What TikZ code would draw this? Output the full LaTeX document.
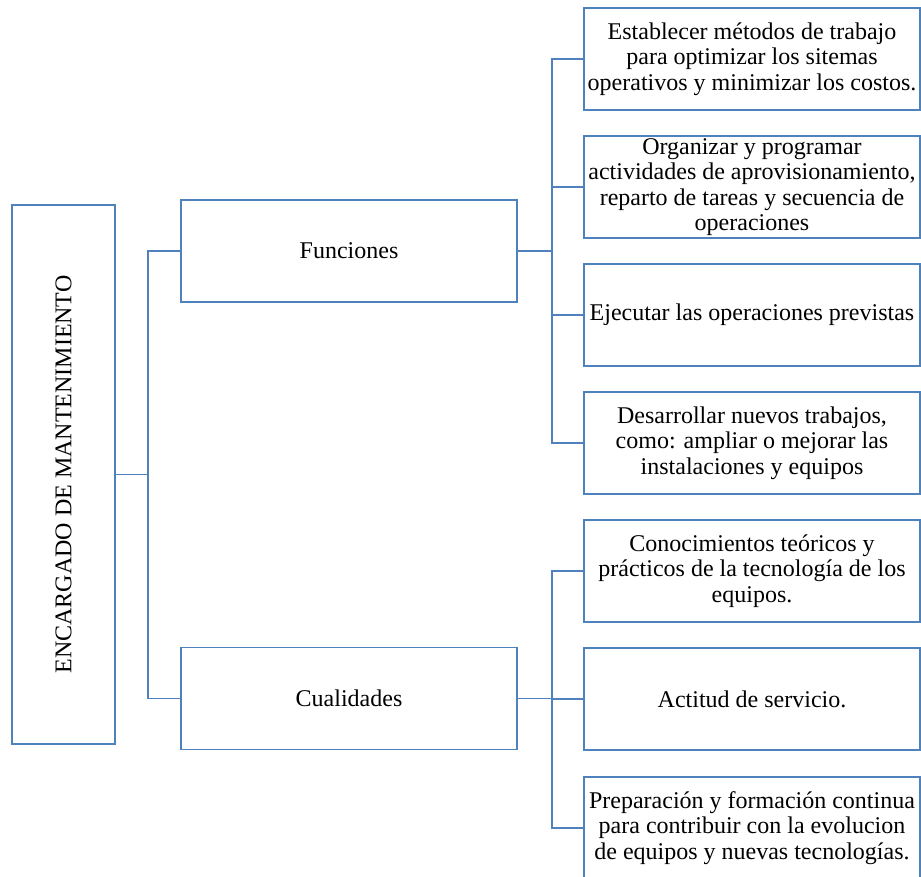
\documentclass[tikz,border=0pt]{standalone}
\usepackage{fontspec}
\usepackage{graphicx}
\setmainfont{Liberation Serif}
\definecolor{boxblue}{RGB}{79,129,189}

\begin{document}
\begin{tikzpicture}[
        x=1pt, y=-1pt,
        box/.style={rectangle, draw=boxblue, line width=1.8pt, align=center, inner sep=2pt, outer sep=0pt, font=\fontsize{24}{25.5}\selectfont},
        item/.style={box, minimum width=336pt, minimum height=102pt},
        link/.style={draw=boxblue, line width=1.8pt}
    ]
        \useasboundingbox (0,0) rectangle (921,877);

        \node (enc) [box, minimum width=103pt, minimum height=539pt] at (63.5,474.5) {\rotatebox{90}{ENCARGADO DE MANTENIMIENTO}};
        \node (fun) [item] at (349,251) {Funciones};
        \node (cua) [item] at (349,698.5) {Cualidades};

        \node (f1) [item] at (752,59) {Establecer métodos de trabajo\\para optimizar los sitemas\\operativos y minimizar los costos.};
        \node (f2) [item] at (752,187) {Organizar y programar\\actividades de aprovisionamiento,\\reparto de tareas y secuencia de\\operaciones};
        \node (f3) [item] at (752,315) {Ejecutar las operaciones previstas};
        \node (f4) [item] at (752,443) {Desarrollar nuevos trabajos,\\como: ampliar o mejorar las\\instalaciones y equipos};
        \node (c1) [item] at (752,571) {Conocimientos teóricos y\\prácticos de la tecnología de los\\equipos.};
        \node (c2) [item] at (752,699) {Actitud de servicio.};
        \node (c3) [item] at (752,828) {Preparación y formación continua\\para contribuir con la evolucion\\de equipos y nuevas tecnologías.};

        \coordinate (j0) at (148,474.5);
        \draw [link] (enc.east) -- (j0);
        \draw [link] (fun.west) -| (j0) |- (cua.west);

        \foreach \n in {f1,f2,f3,f4}
            \draw [link] (fun.east) -- ++(35,0) |- (\n.west);
        \foreach \n in {c1,c2,c3}
            \draw [link] (cua.east) -- ++(35,0) |- (\n.west);
    \end{tikzpicture}
\end{document}
